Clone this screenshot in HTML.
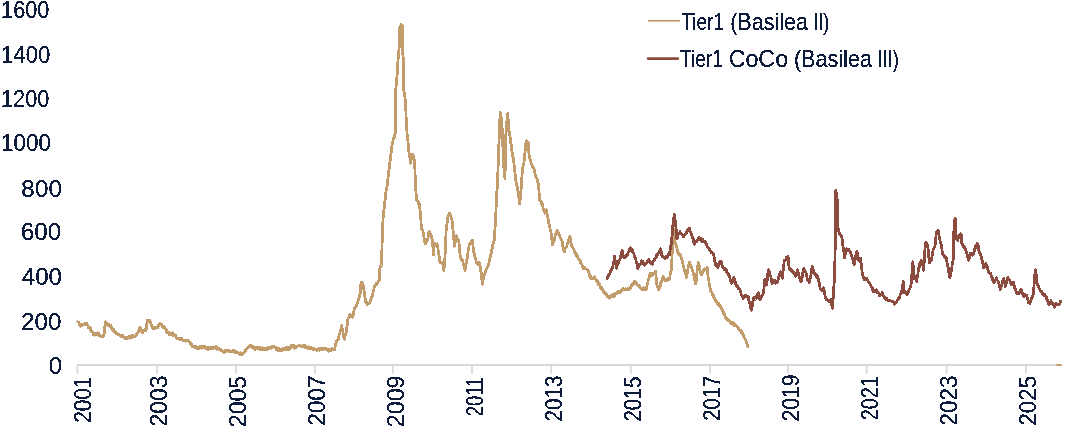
<!DOCTYPE html>
<html><head><meta charset="utf-8"><style>
html,body{margin:0;padding:0;background:#fff;}
svg{display:block;font-family:"Liberation Sans",sans-serif;}
</style></head><body>
<svg width="1080" height="428" viewBox="0 0 1080 428">
<defs><filter id="crisp" x="0" y="0" width="1080" height="428" filterUnits="userSpaceOnUse"><feComponentTransfer><feFuncA type="discrete" tableValues="0 1 1"/></feComponentTransfer></filter></defs>
<rect width="1080" height="428" fill="#fff"/>
<g stroke="#d9d9d9" stroke-width="1.7"><line x1="77.40" y1="365" x2="77.40" y2="373.8"/><line x1="156.90" y1="365" x2="156.90" y2="373.8"/><line x1="235.90" y1="365" x2="235.90" y2="373.8"/><line x1="314.85" y1="365" x2="314.85" y2="373.8"/><line x1="392.80" y1="365" x2="392.80" y2="373.8"/><line x1="472.00" y1="365" x2="472.00" y2="373.8"/><line x1="551.30" y1="365" x2="551.30" y2="373.8"/><line x1="630.90" y1="365" x2="630.90" y2="373.8"/><line x1="710.10" y1="365" x2="710.10" y2="373.8"/><line x1="788.00" y1="365" x2="788.00" y2="373.8"/><line x1="866.70" y1="365" x2="866.70" y2="373.8"/><line x1="946.50" y1="365" x2="946.50" y2="373.8"/><line x1="1025.90" y1="365" x2="1025.90" y2="373.8"/></g>
<line x1="76.8" y1="365" x2="1061.7" y2="365" stroke="#d9d9d9" stroke-width="2"/>
<line x1="1056.3" y1="365" x2="1061.7" y2="365" stroke="#c39c6c" stroke-width="2"/>
<polyline points="77.6,321.6 78.2,322.1 78.8,322.6 79.3,324.8 79.9,324.2 80.5,326.3 81.0,326.2 81.6,325.5 82.1,324.5 82.6,325.4 83.2,324.0 83.7,324.8 84.3,323.7 84.8,323.5 85.3,324.1 85.9,325.0 86.4,323.9 86.9,323.5 87.4,324.4 87.9,326.0 88.4,327.4 88.9,327.0 89.4,327.1 89.9,328.0 90.4,330.2 90.9,328.7 91.4,331.7 91.9,331.2 92.4,331.7 92.9,332.6 93.4,334.5 93.9,333.9 94.4,335.2 94.9,333.5 95.4,334.4 96.0,334.5 96.5,333.8 97.0,334.2 97.5,332.8 98.0,333.9 98.5,333.2 99.0,334.0 99.5,335.6 100.0,335.4 100.5,335.5 101.0,336.6 101.5,336.8 102.1,336.2 102.7,335.4 103.3,336.2 103.9,335.0 104.5,331.1 105.0,325.4 105.6,321.6 106.2,323.0 106.8,324.0 107.4,325.1 108.0,326.1 108.6,325.7 109.1,324.5 109.7,326.3 110.3,325.1 110.9,325.5 111.4,327.6 112.0,329.2 112.5,330.3 113.0,329.2 113.6,330.5 114.1,329.8 114.6,331.9 115.1,332.6 115.7,332.6 116.2,333.8 116.7,333.3 117.2,333.1 117.7,334.3 118.3,334.3 118.8,334.5 119.3,334.5 119.8,335.7 120.4,336.2 120.9,335.3 121.4,335.6 121.9,336.3 122.5,335.0 123.0,336.9 123.5,337.1 124.0,338.2 124.6,338.1 125.1,336.9 125.6,337.5 126.1,338.5 126.7,337.1 127.2,338.6 127.7,338.3 128.3,337.3 128.8,336.9 129.3,336.6 129.9,338.2 130.4,336.3 131.0,336.4 131.5,336.6 132.0,337.6 132.6,335.3 133.1,336.2 133.6,335.9 134.1,336.0 134.6,336.7 135.1,336.3 135.6,336.3 136.1,334.6 136.6,335.0 137.1,333.7 137.6,332.5 138.1,332.8 138.6,331.9 139.1,328.7 139.6,327.7 140.1,327.5 140.7,328.1 141.2,329.4 141.8,331.4 142.4,332.7 142.9,332.4 143.4,331.1 143.9,329.9 144.4,330.4 145.0,329.8 145.5,329.8 146.0,330.3 146.5,328.6 147.1,319.9 147.6,320.7 148.1,320.6 148.6,321.2 149.1,321.7 149.6,320.4 150.1,322.9 150.6,322.2 151.2,324.5 151.8,326.4 152.3,327.8 152.9,328.6 153.4,328.3 153.9,328.2 154.5,327.4 155.0,328.7 155.5,327.1 156.0,327.1 156.6,327.4 157.1,327.2 157.6,328.0 158.2,326.3 158.8,324.2 159.4,324.0 159.9,323.1 160.4,323.8 160.9,324.1 161.4,325.1 162.0,324.6 162.5,327.1 163.0,326.8 163.5,326.9 164.0,326.7 164.6,327.6 165.1,328.6 165.6,329.3 166.1,329.4 166.7,332.0 167.2,333.0 167.7,332.3 168.2,333.1 168.8,332.7 169.3,334.5 169.8,333.3 170.3,333.8 170.9,333.4 171.4,334.8 171.9,332.9 172.4,333.6 172.9,332.8 173.4,335.7 174.0,335.0 174.5,334.5 175.0,335.9 175.5,335.0 176.0,336.8 176.5,338.4 177.1,338.6 177.6,338.6 178.1,338.5 178.6,338.0 179.1,338.4 179.6,338.0 180.1,339.7 180.6,339.2 181.1,340.0 181.6,338.9 182.1,338.8 182.6,340.4 183.1,341.0 183.6,340.8 184.1,340.8 184.6,340.1 185.1,341.2 185.7,341.2 186.2,340.1 186.8,341.1 187.3,340.9 187.9,340.3 188.4,340.5 189.0,341.4 189.5,342.2 190.0,342.1 190.5,343.8 191.0,345.0 191.5,344.2 192.0,346.0 192.5,346.6 193.0,347.1 193.5,346.1 194.0,346.2 194.5,347.5 195.0,346.8 195.6,346.7 196.1,346.7 196.7,347.8 197.2,348.5 197.8,348.4 198.3,347.4 198.9,347.9 199.4,347.5 199.9,348.2 200.4,346.2 200.9,347.6 201.4,348.1 202.0,347.7 202.5,347.5 203.0,346.7 203.5,346.6 204.0,346.0 204.6,347.7 205.1,346.7 205.7,348.1 206.2,348.8 206.8,347.5 207.3,347.7 207.9,349.3 208.4,348.3 208.9,348.8 209.4,347.3 210.0,347.1 210.5,347.1 211.0,349.0 211.5,348.7 212.0,346.9 212.5,348.6 213.1,348.9 213.6,348.0 214.1,347.5 214.6,347.2 215.2,347.8 215.7,346.8 216.3,346.6 216.8,349.2 217.4,348.4 217.9,348.2 218.5,349.3 219.0,348.3 219.5,348.6 220.1,350.2 220.6,350.5 221.2,349.4 221.7,349.9 222.3,350.5 222.8,350.8 223.4,352.2 223.9,352.4 224.4,351.4 225.0,351.4 225.6,350.2 226.1,351.8 226.6,349.9 227.2,349.9 227.7,350.0 228.3,350.5 228.8,351.5 229.4,350.4 229.9,351.9 230.5,351.0 231.0,351.3 231.6,351.5 232.1,351.6 232.6,350.4 233.2,351.5 233.7,350.9 234.3,350.5 234.8,352.6 235.4,351.0 235.9,351.8 236.5,352.5 237.0,352.0 237.5,352.5 238.1,352.2 238.6,353.0 239.2,353.4 239.7,354.3 240.3,352.8 240.8,354.3 241.4,353.8 241.9,354.8 242.4,353.5 243.0,354.1 243.5,352.7 244.1,352.1 244.6,351.9 245.2,351.5 245.7,349.6 246.3,349.3 246.8,348.3 247.4,347.8 247.9,347.2 248.4,347.2 249.0,346.0 249.6,345.6 250.1,345.0 250.6,345.3 251.2,346.9 251.7,346.6 252.3,347.4 252.8,348.0 253.4,346.6 253.9,347.7 254.5,349.1 255.0,348.3 255.5,349.2 256.0,347.4 256.5,347.4 257.1,348.3 257.6,347.3 258.1,347.8 258.6,347.4 259.1,349.0 259.6,349.3 260.1,349.6 260.6,347.7 261.1,349.2 261.7,349.1 262.2,347.8 262.7,349.8 263.2,348.8 263.8,350.0 264.3,348.1 264.9,350.0 265.4,348.5 265.9,348.8 266.5,348.8 267.0,350.0 267.6,349.4 268.1,347.6 268.6,348.1 269.1,348.2 269.7,347.7 270.2,347.2 270.7,347.4 271.3,348.3 271.8,346.3 272.3,347.6 272.8,347.2 273.4,346.0 273.9,347.1 274.4,346.9 274.9,347.9 275.4,347.9 275.9,347.0 276.4,349.6 276.9,349.4 277.5,350.1 278.0,348.1 278.5,348.8 279.0,348.4 279.5,350.6 280.0,349.5 280.5,350.4 281.0,349.2 281.5,349.8 282.0,350.9 282.5,350.4 283.0,348.8 283.5,348.3 284.0,350.1 284.5,348.8 285.0,349.0 285.5,349.3 286.0,347.7 286.5,347.6 287.0,349.3 287.5,348.6 288.0,347.7 288.5,349.9 289.0,349.1 289.5,348.8 290.0,349.0 290.6,346.5 291.1,347.8 291.6,345.1 292.2,346.6 292.7,345.0 293.2,345.4 293.7,345.6 294.2,346.6 294.7,348.1 295.2,347.5 295.7,346.8 296.2,346.3 296.8,347.2 297.3,346.3 297.8,345.9 298.3,345.9 298.8,345.5 299.3,345.8 299.9,345.9 300.4,345.8 300.9,346.2 301.4,347.0 301.9,345.9 302.4,346.5 302.9,345.8 303.4,346.3 303.9,345.5 304.5,346.3 305.0,345.7 305.5,347.7 306.0,347.3 306.5,346.5 307.0,347.3 307.5,347.5 308.0,348.7 308.6,346.6 309.1,348.5 309.7,347.5 310.2,347.8 310.8,348.7 311.3,347.6 311.9,348.0 312.4,348.0 312.9,348.8 313.5,349.8 314.0,348.4 314.6,349.9 315.1,349.9 315.7,350.0 316.2,349.6 316.8,349.7 317.3,350.4 317.8,349.1 318.4,349.1 318.9,348.8 319.5,350.3 320.0,348.9 320.6,348.5 321.1,348.1 321.7,349.9 322.2,348.8 322.7,349.9 323.3,349.5 323.8,348.6 324.4,348.6 324.9,348.9 325.5,349.4 326.0,348.8 326.6,349.6 327.1,349.9 327.6,349.3 328.2,351.1 328.7,351.1 329.2,350.0 329.7,349.2 330.3,351.1 330.8,349.4 331.3,349.5 331.9,348.6 332.4,349.6 332.9,349.8 333.4,349.9 334.0,349.1 334.5,349.9 335.0,347.6 335.6,343.9 336.1,342.9 336.6,341.4 337.1,340.1 337.6,340.0 338.1,338.2 338.6,338.5 339.1,335.1 339.7,333.6 340.2,331.3 340.7,330.0 341.3,327.7 341.8,325.4 342.3,328.8 342.8,331.4 343.3,334.3 343.8,337.5 344.3,339.3 344.9,336.6 345.5,333.9 346.1,333.2 346.7,329.5 347.4,323.2 348.0,318.7 348.6,318.3 349.2,317.0 349.8,314.4 350.4,314.6 350.9,316.0 351.4,316.6 351.9,316.4 352.4,317.2 352.9,317.1 353.4,314.9 354.0,310.2 354.5,308.1 355.0,307.3 355.5,306.5 356.0,306.5 356.5,305.6 357.0,304.0 357.5,303.2 358.1,301.0 358.6,299.1 359.2,297.9 359.7,295.2 360.3,292.5 361.1,281.9 361.6,283.2 362.2,282.8 362.7,284.3 363.2,285.8 363.8,288.8 364.3,292.5 365.0,297.0 365.7,302.3 366.3,301.8 367.0,304.3 367.6,304.0 368.1,303.8 368.6,303.7 369.1,303.3 369.6,303.1 370.1,302.3 370.6,300.6 371.2,297.7 371.7,297.4 372.2,296.0 372.8,293.7 373.3,290.9 373.9,289.0 374.4,287.2 375.0,285.2 375.6,285.2 376.2,283.2 376.8,284.5 377.4,283.5 378.0,282.1 378.5,280.8 379.1,281.1 379.9,268.0 380.4,266.6 381.0,266.9 381.5,265.5 382.1,243.6 383.0,219.3 383.5,213.5 384.0,209.9 384.5,204.3 385.1,199.9 385.8,193.1 386.3,190.1 386.9,186.9 387.4,184.2 387.9,178.9 388.4,173.7 389.0,169.9 389.5,165.9 390.1,161.0 390.6,157.1 391.1,153.0 391.6,148.4 392.1,144.5 392.6,141.9 393.1,140.0 393.6,137.8 394.1,137.5 394.7,134.8 395.2,133.7 395.2,100.0 395.6,91.6 396.1,86.5 396.6,79.8 397.1,75.8 397.6,65.7 398.2,57.9 398.7,52.0 399.2,47.4 399.8,27.4 400.3,26.8 400.8,25.8 401.3,24.2 401.9,25.7 402.4,26.3 402.4,51.6 402.9,54.8 403.4,59.0 403.4,87.4 403.9,90.6 404.5,93.7 405.1,98.9 405.7,104.2 406.3,123.2 406.9,130.5 407.4,137.9 408.0,141.8 408.5,148.7 409.1,152.6 409.8,157.1 410.5,163.2 411.1,160.2 411.6,154.7 412.1,156.1 412.6,154.0 413.2,155.4 413.7,155.8 414.2,160.3 414.7,163.2 415.2,177.8 415.8,190.0 416.7,200.6 417.3,201.2 417.8,201.5 418.4,202.1 418.9,204.7 419.5,204.3 420.4,213.6 420.9,220.3 421.4,228.6 422.0,230.0 422.6,230.1 423.2,232.3 423.8,236.1 424.5,241.0 425.1,243.6 425.6,242.0 426.1,243.2 426.6,241.7 427.1,241.1 427.6,239.7 428.1,236.9 428.7,233.3 429.2,231.6 429.7,234.0 430.3,234.4 430.8,234.6 431.3,235.9 431.9,238.6 432.4,240.0 432.9,247.2 433.4,254.7 433.9,248.9 434.5,244.2 435.0,243.4 435.5,244.2 436.1,244.3 436.6,245.8 437.1,243.8 437.6,245.3 438.1,249.9 438.6,254.1 439.2,256.2 439.7,261.1 440.2,262.6 440.8,262.4 441.3,263.2 441.8,262.0 442.4,262.5 442.9,263.2 443.4,266.6 443.9,270.5 444.4,264.9 445.0,256.8 445.6,244.4 446.1,231.6 446.6,226.7 447.2,222.3 447.7,217.9 448.2,216.1 448.8,214.3 449.3,213.3 449.8,213.1 450.4,215.7 450.9,216.0 451.4,219.4 452.0,220.0 452.7,226.2 453.4,233.7 453.9,239.4 454.5,246.3 455.0,243.7 455.6,240.2 456.1,238.1 456.6,235.8 457.1,238.0 457.6,238.9 458.2,239.8 458.7,240.0 459.3,245.9 459.8,252.3 460.4,256.8 460.9,259.0 461.4,259.0 461.9,260.6 462.4,259.9 462.9,262.1 463.4,264.8 463.9,266.2 464.5,269.1 465.0,270.5 465.5,268.0 466.1,264.1 466.6,260.6 467.1,258.9 467.6,256.6 468.1,251.1 468.7,248.6 469.2,245.3 469.7,244.0 470.3,243.0 470.8,243.3 471.3,243.0 471.9,240.3 472.4,240.0 473.1,246.7 473.8,252.6 474.4,254.2 474.9,257.0 475.5,258.7 476.0,260.2 476.6,263.2 477.1,262.3 477.6,262.4 478.1,264.3 478.7,263.2 479.2,262.5 479.7,263.2 480.3,267.8 480.8,271.5 481.4,273.7 482.3,284.2 482.8,281.6 483.4,278.3 483.9,276.8 484.4,274.6 485.0,272.9 485.5,272.1 486.0,270.0 486.6,268.9 487.1,267.5 487.7,266.9 488.2,265.3 488.7,264.2 489.2,261.7 489.8,258.7 490.3,256.6 490.8,254.8 491.3,252.6 491.8,249.8 492.4,247.3 492.9,244.1 493.4,242.2 494.0,241.6 494.5,237.9 495.0,228.5 495.5,221.1 496.1,208.1 496.6,195.0 497.1,189.3 497.6,182.9 498.1,167.0 498.7,149.2 499.2,136.2 499.7,124.1 500.2,112.4 500.7,114.9 501.3,118.4 501.8,121.8 502.4,134.3 502.9,147.1 503.4,158.8 503.9,168.2 504.4,174.4 505.0,178.7 505.6,136.6 506.1,131.8 506.6,123.8 507.2,118.0 507.7,113.4 508.2,120.3 508.7,127.1 509.2,132.4 509.8,135.5 510.3,138.7 510.8,143.1 511.4,145.8 511.9,151.3 512.4,153.1 512.9,156.6 513.4,157.6 514.0,163.7 514.5,168.2 515.1,174.0 515.6,179.2 516.2,182.9 516.9,185.4 517.6,189.2 518.1,191.9 518.7,195.7 519.2,200.3 519.7,203.9 520.4,197.4 521.0,190.0 521.5,183.9 522.0,176.0 522.5,168.2 523.2,165.9 523.9,162.9 524.5,158.3 525.0,152.2 525.5,147.2 526.1,141.8 526.6,140.9 527.2,143.1 527.7,141.9 528.2,142.9 528.7,150.3 529.2,155.5 529.7,158.0 530.2,159.2 530.8,160.8 531.3,163.9 531.8,164.3 532.3,166.4 532.9,167.6 533.4,168.2 533.9,169.0 534.4,170.6 535.0,173.5 535.5,175.5 536.0,177.0 536.6,178.5 537.2,179.8 537.8,182.5 538.4,184.0 539.0,190.9 539.5,200.4 540.1,200.5 540.7,201.4 541.3,203.3 541.9,202.7 542.5,205.4 543.0,207.4 543.6,210.3 544.3,211.2 544.9,213.2 545.4,211.3 546.0,210.2 546.5,209.7 547.1,214.4 547.7,217.2 548.3,219.7 548.9,223.7 549.5,224.8 550.0,228.4 550.6,231.2 551.2,233.1 551.8,238.7 552.4,244.8 553.0,242.4 553.5,241.7 554.1,240.7 554.7,237.8 555.3,235.3 555.9,233.0 556.5,232.1 557.1,230.7 557.7,231.7 558.2,233.5 558.8,233.4 559.4,235.4 560.0,237.3 560.5,238.4 561.1,238.9 561.7,240.1 562.3,242.3 562.9,247.2 563.5,248.4 564.1,251.8 564.7,251.5 565.2,248.8 565.8,247.6 566.4,247.1 566.9,246.3 567.4,243.6 567.9,243.8 568.4,241.1 568.9,238.8 569.4,237.4 569.9,236.6 570.5,239.0 571.0,242.3 571.6,245.6 572.2,247.1 572.8,247.4 573.4,249.2 574.0,249.9 574.6,251.8 575.2,254.2 575.8,253.2 576.3,254.1 576.9,256.4 577.4,255.8 577.9,257.3 578.5,259.2 579.0,259.7 579.5,259.9 580.0,259.9 580.6,262.7 581.1,264.0 581.7,264.0 582.2,265.1 582.8,267.4 583.3,268.8 583.8,268.7 584.4,267.1 584.9,269.1 585.4,268.6 585.9,268.9 586.5,269.1 587.0,269.0 587.5,270.2 588.0,270.1 588.6,272.0 589.1,273.4 589.6,276.2 590.1,275.2 590.7,278.6 591.2,278.6 591.7,277.7 592.3,278.0 592.8,279.1 593.4,278.9 593.9,277.8 594.5,276.7 595.0,277.7 595.5,278.6 596.1,279.2 596.6,281.6 597.1,280.6 597.6,282.0 598.2,284.3 598.7,284.2 599.2,283.8 599.8,285.6 600.3,287.4 600.8,288.1 601.3,287.0 601.9,287.8 602.4,289.8 602.9,289.3 603.5,292.2 604.0,291.2 604.6,293.1 605.1,294.2 605.7,293.4 606.2,294.5 606.7,294.4 607.3,296.7 607.8,296.4 608.3,296.0 608.8,297.7 609.4,297.2 609.9,298.2 610.5,296.9 611.0,295.4 611.6,296.6 612.1,296.3 612.7,294.5 613.3,295.1 614.0,296.3 614.6,295.4 615.2,293.4 615.7,293.2 616.3,293.1 616.8,293.6 617.4,291.7 618.0,293.1 618.5,291.8 619.1,291.6 619.6,292.2 620.2,292.6 620.8,291.6 621.3,291.8 621.9,289.0 622.4,289.6 623.0,287.9 623.5,288.8 624.1,289.3 624.6,289.4 625.1,289.3 625.6,288.8 626.2,289.1 626.7,289.8 627.2,289.2 627.8,290.0 628.3,287.9 628.9,287.9 629.4,289.1 630.0,287.5 630.5,287.9 631.0,285.8 631.6,284.8 632.1,285.3 632.6,283.7 633.1,284.5 633.7,283.3 634.2,281.4 634.7,283.2 635.3,281.8 635.8,281.9 636.3,282.5 636.8,284.0 637.4,285.1 637.9,285.1 638.4,285.5 639.0,285.5 639.5,286.5 640.1,287.6 640.6,288.3 641.2,289.0 641.7,288.9 642.2,289.8 642.7,289.3 643.3,287.9 643.8,289.8 644.3,288.4 644.8,289.1 645.4,288.6 645.9,289.5 646.4,288.9 646.9,285.8 647.5,283.7 648.0,281.4 648.5,278.9 649.0,278.5 649.6,275.5 650.1,273.0 650.7,272.9 651.2,273.5 651.8,275.4 652.3,274.5 652.9,274.9 653.5,273.4 654.0,274.2 654.6,273.0 655.1,273.1 655.7,271.1 656.6,284.2 657.2,285.0 657.9,287.9 658.5,289.8 659.1,289.1 659.6,287.7 660.2,286.4 660.7,282.6 661.3,282.3 661.9,279.9 662.6,277.6 663.2,276.7 663.8,276.7 664.3,279.4 664.9,279.2 665.4,280.9 666.0,280.5 666.5,279.9 667.1,280.9 667.6,279.6 668.1,278.8 668.6,279.9 669.2,280.0 669.7,278.6 670.3,273.8 671.0,271.4 671.6,267.4 672.5,245.0 673.1,237.5 673.7,229.4 674.4,235.0 675.1,242.0 675.7,243.8 676.2,245.3 676.8,247.5 677.3,249.8 677.9,252.5 678.4,253.5 678.9,254.3 679.5,253.8 680.0,254.0 680.5,255.6 681.0,256.7 681.5,259.3 682.0,260.1 682.6,262.5 683.1,265.1 683.6,266.4 684.2,270.1 684.7,271.5 685.2,272.4 685.8,274.6 686.3,277.7 686.8,274.8 687.3,272.6 687.8,270.2 688.4,266.2 688.9,263.7 689.4,262.0 689.9,263.9 690.5,264.6 691.0,265.6 691.5,267.1 692.1,270.2 692.6,270.4 693.1,272.2 693.6,275.1 694.2,276.8 694.7,279.2 695.2,282.7 695.7,284.0 696.2,280.9 696.7,274.8 697.2,270.0 697.7,267.0 698.2,262.0 698.8,263.7 699.3,265.8 699.9,270.6 700.4,271.9 701.0,274.6 701.5,274.7 702.0,273.0 702.5,273.5 703.1,271.7 703.6,270.2 704.1,270.4 704.7,268.8 705.2,269.8 705.8,269.3 706.3,269.0 706.8,269.0 707.3,267.2 708.2,278.7 708.8,280.6 709.4,284.9 709.9,287.1 710.5,290.4 711.0,291.4 711.5,291.5 712.0,292.8 712.5,294.5 713.0,296.5 713.5,295.4 714.0,297.4 714.5,298.2 715.0,299.8 715.5,301.1 716.0,299.9 716.5,300.6 717.0,303.5 717.5,303.2 718.0,304.9 718.5,304.2 719.0,303.5 719.5,306.3 720.0,305.4 720.5,307.3 721.0,306.7 721.6,308.5 722.2,310.5 722.8,310.2 723.4,312.6 723.9,314.3 724.4,313.9 724.9,315.4 725.4,317.5 725.9,318.5 726.4,317.8 726.9,319.6 727.4,319.3 727.9,320.1 728.4,320.8 728.9,320.9 729.5,320.6 730.0,321.3 730.5,322.9 731.0,323.7 731.5,323.1 732.0,322.2 732.5,323.8 733.1,324.5 733.6,322.9 734.1,325.3 734.6,323.6 735.2,325.1 735.7,325.3 736.2,325.4 736.7,326.4 737.2,326.2 737.7,327.2 738.2,328.3 738.7,328.6 739.2,329.8 739.7,330.1 740.2,330.6 740.7,331.3 741.2,330.9 741.7,333.1 742.2,333.4 742.7,333.4 743.2,334.8 743.8,336.9 744.4,338.4 745.0,339.0 745.6,340.6 746.2,341.3 746.8,343.7 747.3,344.3 747.9,346.9" fill="none" stroke="#c39c6c" stroke-width="2.8" stroke-linejoin="round" stroke-linecap="round" shape-rendering="crispEdges"/>
<polyline points="607.1,278.6 607.7,276.5 608.2,276.2 608.8,274.2 609.3,274.0 609.9,273.0 610.5,271.9 611.0,269.6 611.6,270.0 612.1,267.4 612.7,267.4 613.3,264.3 614.0,260.7 614.6,256.2 615.2,260.3 615.8,263.1 616.4,268.3 617.0,266.6 617.6,264.6 618.1,264.4 618.7,260.6 619.3,259.9 619.9,259.0 620.4,257.5 621.0,254.9 621.5,253.3 622.1,250.6 622.7,252.3 623.3,256.8 623.9,258.0 624.4,257.5 625.0,258.1 625.5,257.5 626.1,255.0 626.6,256.1 627.2,255.9 627.7,254.3 628.3,251.9 628.8,251.3 629.4,251.1 629.9,248.2 630.5,247.8 631.1,249.8 631.6,249.1 632.2,251.4 632.7,250.6 633.3,252.4 633.9,254.1 634.4,256.9 635.0,256.7 635.5,258.5 636.1,260.8 636.7,263.3 637.3,265.3 637.9,268.3 638.4,266.0 639.0,265.3 639.5,264.2 640.1,265.1 640.6,263.4 641.2,262.9 641.7,260.8 642.3,260.9 642.8,263.4 643.4,262.6 643.9,264.6 644.5,265.5 645.0,265.1 645.6,263.5 646.1,264.1 646.6,262.4 647.1,261.7 647.7,261.7 648.2,259.9 648.7,259.4 649.3,262.2 649.8,261.8 650.4,261.7 650.9,263.3 651.5,262.5 652.0,263.6 652.5,264.1 653.1,262.2 653.6,260.8 654.1,261.1 654.6,259.4 655.2,258.0 655.7,258.0 656.2,257.6 656.7,254.8 657.3,255.7 657.8,253.2 658.3,253.2 658.8,253.1 659.4,251.0 659.9,250.2 660.4,248.7 661.0,250.9 661.5,252.7 662.1,256.7 662.6,255.6 663.1,256.1 663.7,257.4 664.2,257.1 664.7,257.4 665.2,258.6 665.8,256.7 666.3,257.8 666.8,256.6 667.4,257.1 667.9,255.0 668.4,254.4 669.0,254.8 669.5,254.6 670.0,250.4 670.5,247.9 671.1,244.4 671.6,242.0 672.1,234.9 672.6,227.3 673.2,223.3 673.7,218.1 674.3,214.7 674.8,218.5 675.3,221.6 675.8,225.2 676.3,231.1 676.8,238.9 677.3,238.8 677.9,235.8 678.4,234.3 678.9,232.9 679.5,233.1 680.0,231.5 680.5,233.3 681.0,234.0 681.5,233.9 682.1,234.4 682.6,234.6 683.1,236.8 683.6,236.5 684.2,235.6 684.7,234.3 685.2,234.4 685.8,233.2 686.3,232.6 686.8,232.9 687.4,231.5 687.9,229.4 688.5,230.3 689.0,228.4 689.5,228.5 690.0,231.0 690.5,231.9 691.0,232.8 691.5,234.7 692.0,235.1 692.6,238.6 693.1,238.1 693.6,241.1 694.2,243.7 694.7,244.1 695.2,242.4 695.8,241.7 696.3,242.0 696.8,241.0 697.3,240.5 697.9,240.2 698.4,237.7 698.9,237.8 699.4,237.8 699.9,238.3 700.5,238.2 701.0,240.9 701.5,241.2 702.0,241.0 702.5,241.6 703.1,239.7 703.6,241.9 704.1,241.6 704.7,240.9 705.2,241.0 705.7,243.2 706.2,244.0 706.8,245.0 707.3,247.3 707.8,246.8 708.3,247.6 708.8,247.7 709.4,248.9 709.9,250.5 710.4,250.4 710.9,251.6 711.5,252.7 712.0,253.1 712.5,252.6 713.1,254.0 713.6,254.6 714.1,257.1 714.7,260.6 715.2,262.5 715.7,265.1 716.3,265.1 716.9,266.7 717.5,267.0 718.0,267.4 718.5,264.6 719.0,265.5 719.5,262.4 720.0,262.2 720.5,261.3 721.0,261.2 721.6,263.6 722.2,265.9 722.8,267.1 723.4,268.2 724.0,268.0 724.5,269.7 725.1,268.6 725.7,269.3 726.2,269.5 726.7,272.0 727.2,272.2 727.7,273.2 728.2,273.9 728.7,275.6 729.2,275.2 729.8,277.2 730.4,280.2 730.9,281.9 731.5,283.4 732.1,282.9 732.7,280.3 733.3,279.6 733.9,277.5 734.5,279.7 735.0,281.1 735.6,282.9 736.2,285.7 736.8,286.6 737.4,285.8 738.0,288.5 738.6,288.0 739.2,288.3 739.8,289.1 740.3,290.5 740.9,292.7 741.5,295.3 742.0,295.2 742.6,296.2 743.2,298.6 743.8,296.5 744.4,295.6 745.0,296.4 745.6,295.0 746.2,295.6 746.8,296.1 747.3,296.5 747.9,296.2 748.5,297.4 749.0,301.1 749.6,302.9 750.2,305.6 750.8,308.7 751.4,310.2 752.0,307.8 752.5,304.8 753.1,299.5 753.7,297.4 754.3,298.7 754.9,299.1 755.5,299.5 756.1,298.6 756.7,296.1 757.2,294.9 757.8,293.2 758.4,292.7 758.9,293.9 759.5,298.3 760.0,299.8 760.6,299.0 761.3,297.0 761.9,295.1 762.5,295.0 763.1,293.6 763.7,292.3 764.2,285.2 764.7,279.3 765.3,280.1 765.9,282.0 766.5,284.9 767.1,280.6 767.8,274.1 768.4,269.9 769.0,271.3 769.7,273.4 770.3,275.5 770.9,277.1 771.5,280.5 772.1,283.9 772.7,282.1 773.4,282.0 774.0,280.2 774.6,280.4 775.1,280.9 775.7,283.1 776.2,282.4 776.8,283.0 777.4,282.0 778.1,279.6 778.7,277.4 779.3,274.3 780.0,273.4 780.6,271.8 781.2,273.8 781.8,276.8 782.4,278.3 782.9,272.8 783.4,268.0 784.3,260.6 784.9,260.5 785.6,259.4 786.2,258.7 786.8,257.0 787.4,257.8 788.0,255.9 788.5,260.4 789.0,267.1 789.6,269.2 790.2,268.7 790.8,270.8 791.4,269.7 791.9,270.4 792.5,272.1 793.0,272.8 793.6,271.8 794.2,272.0 794.9,274.8 795.5,276.4 796.1,274.2 796.8,272.8 797.4,269.9 798.0,271.6 798.7,274.9 799.3,277.4 799.9,278.6 800.5,281.4 801.1,282.1 801.7,278.7 802.2,277.6 802.8,273.1 803.3,270.1 803.9,268.0 804.5,270.1 805.2,271.1 805.8,272.7 806.4,274.2 807.1,278.1 807.7,280.2 808.3,279.7 808.9,282.2 809.5,282.1 810.1,279.4 810.6,276.5 811.2,272.9 811.7,269.0 812.3,266.2 812.9,268.1 813.6,270.3 814.2,272.7 814.8,274.6 815.5,273.5 816.1,275.5 816.7,277.1 817.3,275.5 817.9,277.4 818.5,279.7 819.2,283.0 819.8,286.7 820.4,289.0 821.1,289.2 821.7,290.5 822.3,289.3 823.0,289.6 823.6,287.7 824.2,290.4 824.8,294.4 825.4,297.9 826.0,298.6 826.7,299.8 827.3,299.8 827.9,301.1 828.6,301.4 829.2,301.7 829.8,300.7 830.4,300.0 831.0,299.8 831.5,301.7 832.0,306.3 832.5,308.2 833.1,298.8 833.8,288.6 834.3,278.9 834.8,268.0 835.3,240.0 835.8,190.3 836.5,193.6 837.1,198.7 837.7,226.7 838.4,229.3 839.0,232.3 839.5,233.7 840.0,233.7 840.6,235.2 841.3,235.3 841.9,237.5 842.5,241.8 843.1,247.2 843.7,250.6 844.2,253.6 844.7,258.0 845.3,254.1 845.9,251.3 846.5,248.7 847.1,249.6 847.6,250.4 848.2,248.9 848.7,249.3 849.3,250.6 849.9,251.2 850.6,252.6 851.2,254.3 851.8,256.4 852.3,257.5 852.9,260.0 853.4,261.7 854.0,264.6 854.6,263.2 855.1,260.0 855.7,255.7 856.2,255.3 856.8,251.5 857.4,253.6 858.1,257.4 858.7,260.8 859.3,261.1 860.0,259.7 860.6,258.0 861.2,264.2 861.8,269.1 862.4,274.9 863.0,275.6 863.7,278.3 864.3,279.5 864.9,278.5 865.4,278.7 866.0,279.2 866.5,278.3 867.1,279.5 867.7,280.0 868.2,281.8 868.8,282.3 869.3,282.5 869.9,283.3 870.5,285.2 871.2,286.3 871.8,287.9 872.4,288.2 873.0,290.7 873.6,291.7 874.2,291.1 874.7,291.6 875.3,291.6 875.8,290.0 876.4,289.8 877.0,291.1 877.6,292.7 878.1,293.0 878.7,293.6 879.3,295.4 879.9,295.4 880.4,295.3 881.0,294.4 881.5,293.7 882.1,292.6 882.7,294.6 883.2,295.3 883.8,296.3 884.3,297.0 884.9,298.2 885.5,298.1 886.0,299.3 886.6,298.3 887.1,299.5 887.7,300.1 888.3,301.0 888.8,301.0 889.4,301.0 889.9,300.2 890.5,301.0 891.1,301.0 891.6,301.3 892.2,301.9 892.7,301.6 893.3,302.0 893.9,303.1 894.5,304.3 895.1,303.8 895.7,302.1 896.2,302.4 896.8,301.8 897.3,299.8 897.9,299.2 898.5,298.2 899.2,298.6 899.8,296.4 900.4,293.6 901.1,293.4 901.7,291.7 902.2,287.4 902.7,285.6 903.2,281.4 903.9,288.1 904.5,292.6 905.1,293.0 905.6,292.3 906.2,293.9 906.7,294.2 907.3,294.5 907.9,293.5 908.6,291.4 909.2,289.8 909.8,288.6 910.4,287.5 911.0,285.1 911.6,277.4 912.3,269.3 912.9,261.8 913.4,268.6 913.9,272.2 914.4,278.6 915.3,276.0 916.0,279.3 916.6,281.6 917.1,278.2 917.6,276.1 918.1,272.3 918.7,268.2 919.4,267.3 920.0,262.9 920.6,261.9 921.2,260.5 921.8,261.1 922.4,263.6 923.1,267.0 923.7,270.4 924.6,253.6 925.2,246.7 925.9,242.4 926.5,243.1 927.2,244.1 927.8,245.2 928.3,251.6 928.8,256.6 929.3,262.9 929.9,261.7 930.6,261.0 931.2,261.1 931.8,258.0 932.4,254.8 933.0,249.9 933.6,249.0 934.3,247.3 934.9,247.1 935.4,242.9 935.9,236.8 936.4,232.1 937.0,231.1 937.7,230.5 938.3,231.2 939.0,235.6 939.6,238.6 940.2,241.6 940.8,243.3 941.4,245.2 941.9,249.3 942.4,253.6 943.0,254.7 943.7,254.8 944.3,256.4 944.9,257.9 945.5,256.6 946.1,257.3 946.7,260.8 947.4,264.4 948.0,266.7 948.6,271.3 949.3,274.1 949.9,277.9 950.5,274.3 951.1,271.8 951.7,268.6 952.2,264.5 952.7,263.2 953.2,259.2 954.0,227.4 954.5,222.4 955.1,218.1 955.8,236.8 956.4,238.9 957.1,238.7 957.7,240.5 958.2,238.3 958.7,236.1 959.2,234.9 959.8,234.4 960.5,233.5 961.1,234.0 962.0,245.2 962.6,244.5 963.1,246.9 963.7,246.3 964.2,246.8 964.8,248.0 965.4,249.1 966.1,251.1 966.7,252.7 967.3,255.0 968.0,258.0 968.6,260.1 969.2,258.3 969.8,255.4 970.4,253.6 971.0,254.9 971.5,254.9 972.1,253.0 972.6,255.2 973.2,254.5 973.8,253.7 974.3,251.5 974.9,248.0 975.4,247.9 976.0,245.2 976.6,245.2 977.3,243.3 977.9,244.3 978.4,245.5 978.9,250.4 979.4,251.7 980.0,253.8 980.5,254.4 981.0,255.6 981.6,258.3 982.2,260.6 982.9,264.1 983.5,268.0 984.0,267.9 984.5,265.9 985.1,264.5 985.6,265.6 986.1,263.7 986.7,266.5 987.3,266.9 987.9,269.8 988.4,271.5 988.9,271.5 989.5,272.6 990.0,273.0 990.5,273.3 991.1,275.8 991.7,277.0 992.3,277.7 992.9,280.3 993.4,280.4 994.0,282.9 994.5,282.4 995.0,280.9 995.6,280.4 996.1,278.6 996.6,277.7 997.2,280.2 997.8,280.8 998.4,282.1 999.0,284.1 999.6,286.6 1000.2,289.9 1000.8,286.9 1001.3,285.8 1001.9,283.8 1002.5,280.9 1003.1,280.2 1003.7,278.6 1004.3,280.3 1004.8,283.8 1005.4,286.4 1005.9,284.7 1006.4,283.0 1007.0,282.1 1007.5,278.2 1008.0,277.7 1008.6,279.5 1009.2,279.4 1009.8,280.3 1010.4,281.9 1010.9,283.7 1011.5,284.7 1012.1,284.7 1012.7,282.6 1013.3,282.1 1013.9,284.2 1014.5,288.0 1015.1,289.1 1015.7,289.5 1016.2,292.4 1016.8,293.5 1017.3,293.7 1017.8,291.9 1018.4,293.2 1018.9,293.3 1019.4,292.6 1020.0,292.6 1020.6,289.8 1021.2,289.1 1021.8,292.4 1022.3,293.2 1022.9,295.2 1023.5,295.5 1024.1,296.8 1024.7,296.1 1025.3,294.6 1025.8,296.1 1026.4,295.2 1027.0,297.6 1027.6,298.8 1028.2,301.3 1028.8,303.1 1029.3,302.8 1029.9,304.0 1030.5,301.9 1031.1,299.9 1031.7,297.8 1032.3,297.3 1032.9,294.7 1033.5,294.3 1034.1,284.5 1034.7,275.0 1035.2,272.2 1035.7,269.8 1036.3,276.5 1037.0,282.9 1037.6,285.2 1038.1,285.3 1038.7,287.3 1039.3,289.3 1039.9,289.4 1040.5,290.8 1041.0,291.3 1041.5,291.3 1042.1,292.4 1042.6,294.2 1043.1,293.5 1043.6,294.4 1044.1,295.3 1044.7,294.6 1045.2,295.1 1045.7,296.1 1046.3,297.0 1046.9,299.3 1047.5,300.5 1048.1,302.3 1048.6,304.1 1049.2,304.8 1049.8,302.2 1050.4,302.5 1051.0,300.5 1051.6,302.7 1052.2,303.0 1052.8,304.0 1053.4,304.0 1053.9,305.8 1054.5,307.5 1055.1,304.7 1055.6,303.8 1056.2,303.1 1056.8,304.8 1057.4,304.5 1058.0,304.8 1058.5,304.5 1059.0,304.2 1059.6,303.8 1060.1,302.3 1060.6,301.3" fill="none" stroke="#8b4b3f" stroke-width="2.8" stroke-linejoin="round" stroke-linecap="round" shape-rendering="crispEdges"/>
<g fill="#0b1b3b" font-size="24" filter="url(#crisp)">
<text x="1.09" y="18.00" textLength="48.37" lengthAdjust="spacingAndGlyphs">1600</text>
<text x="1.06" y="62.60" textLength="49.20" lengthAdjust="spacingAndGlyphs">1400</text>
<text x="0.99" y="107.00" textLength="48.37" lengthAdjust="spacingAndGlyphs">1200</text>
<text x="0.93" y="151.20" textLength="49.94" lengthAdjust="spacingAndGlyphs">1000</text>
<text x="20.97" y="196.60" textLength="41.21" lengthAdjust="spacingAndGlyphs">800</text>
<text x="20.79" y="240.30" textLength="40.47" lengthAdjust="spacingAndGlyphs">600</text>
<text x="21.80" y="284.90" textLength="40.05" lengthAdjust="spacingAndGlyphs">400</text>
<text x="21.09" y="329.70" textLength="40.26" lengthAdjust="spacingAndGlyphs">200</text>
<text x="48.79" y="373.70" textLength="13.47" lengthAdjust="spacingAndGlyphs">0</text>
<text transform="translate(91.20,422.76) rotate(-90)" textLength="46.17" lengthAdjust="spacingAndGlyphs">2001</text>
<text transform="translate(167.20,426.56) rotate(-90)" textLength="51.09" lengthAdjust="spacingAndGlyphs">2003</text>
<text transform="translate(245.90,427.16) rotate(-90)" textLength="51.23" lengthAdjust="spacingAndGlyphs">2005</text>
<text transform="translate(324.80,425.84) rotate(-90)" textLength="50.35" lengthAdjust="spacingAndGlyphs">2007</text>
<text transform="translate(403.90,427.17) rotate(-90)" textLength="51.72" lengthAdjust="spacingAndGlyphs">2009</text>
<text transform="translate(483.10,416.27) rotate(-90)" textLength="39.53" lengthAdjust="spacingAndGlyphs">2011</text>
<text transform="translate(562.00,421.46) rotate(-90)" textLength="45.85" lengthAdjust="spacingAndGlyphs">2013</text>
<text transform="translate(641.10,421.44) rotate(-90)" textLength="44.97" lengthAdjust="spacingAndGlyphs">2015</text>
<text transform="translate(720.30,420.64) rotate(-90)" textLength="45.02" lengthAdjust="spacingAndGlyphs">2017</text>
<text transform="translate(799.10,421.48) rotate(-90)" textLength="46.90" lengthAdjust="spacingAndGlyphs">2019</text>
<text transform="translate(878.10,420.22) rotate(-90)" textLength="43.86" lengthAdjust="spacingAndGlyphs">2021</text>
<text transform="translate(957.00,425.44) rotate(-90)" textLength="49.94" lengthAdjust="spacingAndGlyphs">2023</text>
<text transform="translate(1036.10,425.53) rotate(-90)" textLength="49.59" lengthAdjust="spacingAndGlyphs">2025</text>
<text x="681.20" y="29.50" textLength="42.83" lengthAdjust="spacingAndGlyphs">Tier1</text>
<text x="730.20" y="29.50" textLength="77.85" lengthAdjust="spacingAndGlyphs">(Basilea</text>
<text x="813.52" y="29.50" textLength="15.76" lengthAdjust="spacingAndGlyphs">II)</text>
<text x="680.10" y="66.80" textLength="42.63" lengthAdjust="spacingAndGlyphs">Tier1</text>
<text x="728.73" y="66.80" textLength="59.31" lengthAdjust="spacingAndGlyphs">CoCo</text>
<text x="793.90" y="66.80" textLength="78.05" lengthAdjust="spacingAndGlyphs">(Basilea</text>
<text x="877.48" y="66.80" textLength="21.28" lengthAdjust="spacingAndGlyphs">III)</text>
</g>
<line x1="648" y1="20.8" x2="680" y2="20.8" stroke="#c39c6c" stroke-width="1.7"/>
<line x1="648.2" y1="58.6" x2="677.8" y2="58.6" stroke="#8b4b3f" stroke-width="2.8" stroke-linecap="round"/>
</svg>
</body></html>
